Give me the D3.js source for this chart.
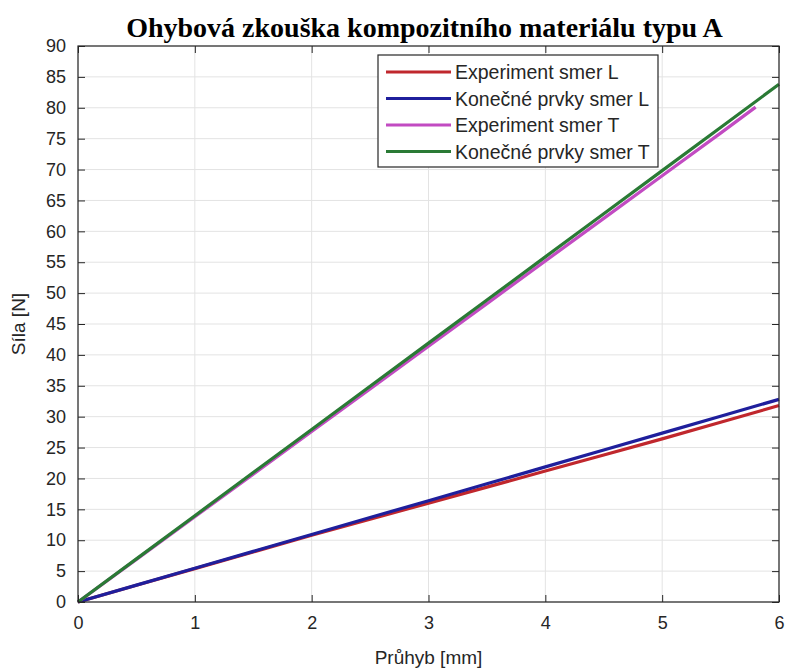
<!DOCTYPE html>
<html>
<head>
<meta charset="utf-8">
<script src="https://cdn.jsdelivr.net/npm/d3@7"></script>
<style>
  html, body { margin: 0; padding: 0; background: #fff; }
  svg { display: block; }
</style>
</head>
<body>
<svg id="chart" width="786" height="669"></svg>
<script>
// Bending test data: deflection [mm] vs force [N]
const deflection = [0, 0.5, 1, 1.5, 2, 2.5, 3, 3.5, 4, 4.5, 5, 5.5, 6];
const deflectionExpT = [0, 0.5, 1, 1.5, 2, 2.5, 3, 3.5, 4, 4.5, 5, 5.5, 5.8];

const forceExpL = [0, 2.7, 5.4, 8.1, 10.8, 13.4, 16.0, 18.6, 21.2, 23.8, 26.4, 29.1, 31.8];
const forceFemL = [0, 2.73, 5.47, 8.2, 10.93, 13.67, 16.4, 19.13, 21.87, 24.6, 27.33, 30.07, 32.8];
const forceExpT = [0, 6.9, 13.8, 20.7, 27.6, 34.5, 41.4, 48.3, 55.2, 62.1, 69.0, 75.9, 80.1];
const forceFemT = [0, 6.98, 13.97, 20.95, 27.93, 34.92, 41.9, 48.88, 55.87, 62.85, 69.83, 76.82, 83.8];

const seriesNames = ["Experiment smer L", "Konečné prvky smer L", "Experiment smer T", "Konečné prvky smer T"];
const seriesColors = ["#c0272d", "#1f1f9c", "#c24bc2", "#2a7a35"];

const xTicks = [0, 1, 2, 3, 4, 5, 6];
const yTicks = d3.range(0, 91, 5);

const titleText = "Ohybová zkouška kompozitního materiálu typu A";
const xLabel = "Průhyb [mm]";
const yLabel = "Síla [N]";

const series = [
  { name: seriesNames[0], color: seriesColors[0], xs: deflection, ys: forceExpL },
  { name: seriesNames[1], color: seriesColors[1], xs: deflection, ys: forceFemL },
  { name: seriesNames[2], color: seriesColors[2], xs: deflectionExpT, ys: forceExpT },
  { name: seriesNames[3], color: seriesColors[3], xs: deflection, ys: forceFemT }
];

const svg = d3.select("#chart");
const plot = { left: 78, right: 779, top: 46, bottom: 602 };

const x = d3.scaleLinear().domain([0, 6]).range([plot.left, plot.right]);
const y = d3.scaleLinear().domain([0, 90]).range([plot.bottom, plot.top]);

const axisColor = "#262626";
const font = "'Liberation Sans', Arial, sans-serif";

// grid
const grid = svg.append("g");
grid.selectAll("line.gx").data(xTicks).join("line")
  .attr("x1", d => x(d)).attr("x2", d => x(d))
  .attr("y1", plot.top).attr("y2", plot.bottom)
  .attr("stroke", "#e3e3e3").attr("stroke-width", 1);
grid.selectAll("line.gy").data(yTicks).join("line")
  .attr("y1", d => y(d)).attr("y2", d => y(d))
  .attr("x1", plot.left).attr("x2", plot.right)
  .attr("stroke", "#e3e3e3").attr("stroke-width", 1);

// data lines
const line = d3.line();
series.forEach(s => {
  svg.append("path")
    .attr("d", line(s.xs.map((v, i) => [x(v), y(s.ys[i])])))
    .attr("fill", "none")
    .attr("stroke", s.color)
    .attr("stroke-width", 3.2)
    .attr("stroke-linejoin", "round");
});

// axes (ticks pointing inward, box style)
const tickLen = 7;
const xAxis = d3.axisBottom(x).tickValues(xTicks).tickSize(-tickLen).tickPadding(14).tickFormat(d3.format("d"));
const yAxis = d3.axisLeft(y).tickValues(yTicks).tickSize(-tickLen).tickPadding(12).tickFormat(d3.format("d"));
const xAxisTop = d3.axisTop(x).tickValues(xTicks).tickSize(-tickLen).tickFormat("");
const yAxisRight = d3.axisRight(y).tickValues(yTicks).tickSize(-tickLen).tickFormat("");

function styleAxis(g) {
  g.select(".domain").remove();
  g.selectAll(".tick line").attr("stroke", axisColor);
  g.selectAll(".tick text").attr("fill", axisColor).style("font-family", font).style("font-size", "18px");
}
svg.append("g").attr("transform", `translate(0,${plot.bottom})`).call(xAxis).call(styleAxis);
svg.append("g").attr("transform", `translate(${plot.left},0)`).call(yAxis).call(styleAxis);
svg.append("g").attr("transform", `translate(0,${plot.top})`).call(xAxisTop).call(styleAxis);
svg.append("g").attr("transform", `translate(${plot.right},0)`).call(yAxisRight).call(styleAxis);

// frame
svg.append("rect")
  .attr("x", plot.left).attr("y", plot.top)
  .attr("width", plot.right - plot.left).attr("height", plot.bottom - plot.top)
  .attr("fill", "none").attr("stroke", axisColor).attr("stroke-width", 1.2);

// title and axis labels
svg.append("text")
  .attr("x", (plot.left + plot.right) / 2 - 4).attr("y", 37)
  .attr("text-anchor", "middle")
  .style("font-family", "'Liberation Serif', 'Times New Roman', serif")
  .style("font-weight", "bold").style("font-size", "28px")
  .attr("fill", "#000")
  .text(titleText);

svg.append("text")
  .attr("x", (plot.left + plot.right) / 2).attr("y", 664)
  .attr("text-anchor", "middle")
  .style("font-family", font).style("font-size", "19px")
  .attr("fill", axisColor)
  .text(xLabel);

svg.append("text")
  .attr("transform", `translate(25,${(plot.top + plot.bottom) / 2}) rotate(-90)`)
  .attr("text-anchor", "middle")
  .style("font-family", font).style("font-size", "19px")
  .attr("fill", axisColor)
  .text(yLabel);

// legend
const legend = { x: 378, y: 55, w: 280, h: 112, rowH: 26.5 };
const lg = svg.append("g");
lg.append("rect")
  .attr("x", legend.x).attr("y", legend.y)
  .attr("width", legend.w).attr("height", legend.h)
  .attr("fill", "#fff").attr("stroke", axisColor).attr("stroke-width", 1.2);
series.forEach((s, i) => {
  const cy = legend.y + 17 + i * legend.rowH;
  lg.append("line")
    .attr("x1", legend.x + 8).attr("x2", legend.x + 73)
    .attr("y1", cy).attr("y2", cy)
    .attr("stroke", s.color).attr("stroke-width", 3.2);
  lg.append("text")
    .attr("x", legend.x + 77).attr("y", cy + 7)
    .style("font-family", font).style("font-size", "19.5px")
    .attr("fill", axisColor)
    .text(s.name);
});
</script>
</body>
</html>
